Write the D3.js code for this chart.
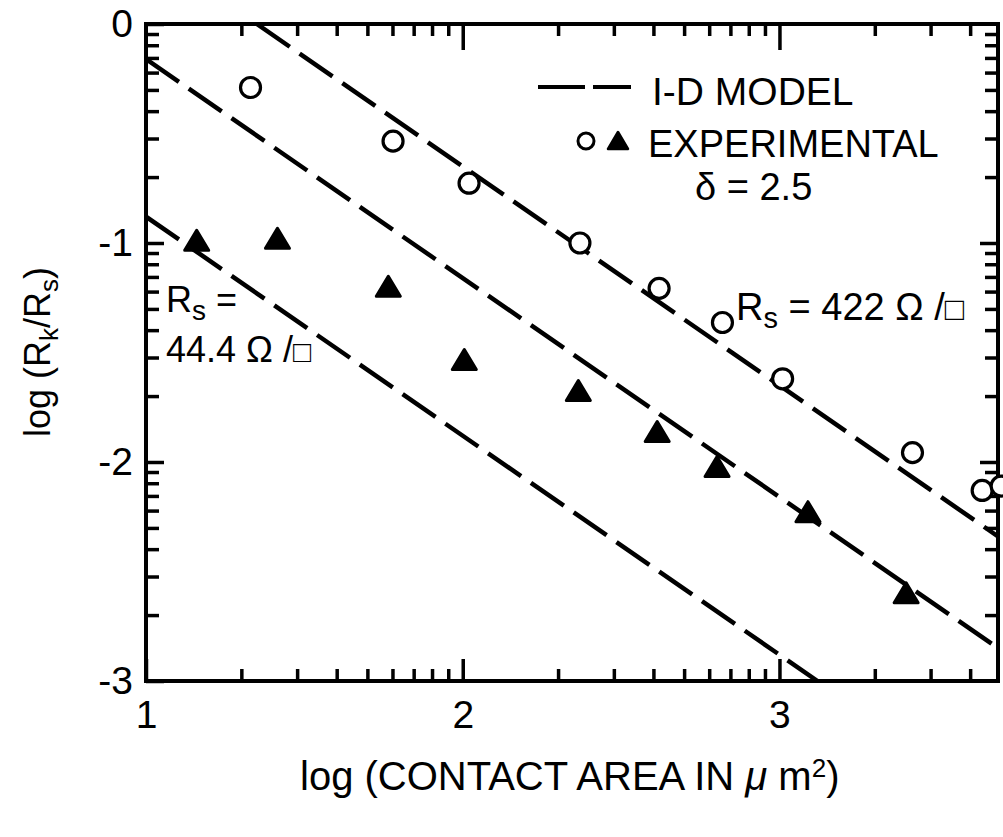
<!DOCTYPE html>
<html>
<head>
<meta charset="utf-8">
<script src="https://cdn.jsdelivr.net/npm/d3@7"></script>
<style>
  html, body { margin: 0; padding: 0; background: #fff; }
  svg { display: block; font-family: "Liberation Sans", Arial, Helvetica, sans-serif; }
  .axis path, .axis line { stroke: #000; stroke-width: 3.5; }
  .axis text { font-size: 39px; fill: #000; }
</style>
</head>
<body>
<svg id="chart" width="1003" height="837"></svg>
<script>
// log(Rk/Rs) vs log(area): tres rectas del modelo 1-D (punteadas) y los puntos
// experimentales, circulos para Rs = 422 y triangulos para Rs = 44.4

var circuloX = [1.33, 1.78, 2.02, 2.37, 2.62, 2.82, 3.01, 3.42, 3.64, 3.70];
var circuloY = [-0.29, -0.535, -0.727, -1.0, -1.207, -1.363, -1.62, -1.957, -2.13, -2.11];

var trianguloX = [1.16, 1.415, 1.765, 2.005, 2.365, 2.614, 2.803, 3.09, 3.40];
var trianguloY = [-0.997, -0.988, -1.207, -1.541, -1.683, -1.87, -2.03, -2.236, -2.606];

// extremos de cada recta del modelo
var modeloX = [[1.35, 3.69], [1.0, 3.69], [1.0, 3.12]];
var modeloY = [[0.0, -2.34], [-0.16, -2.85], [-0.88, -3.0]];

var ticksX = [1, 2, 3];
var ticksY = [0, -1, -2, -3];
var etiquetasX = ["1", "2", "3"];
var etiquetasY = ["0", "-1", "-2", "-3"];

var svg = d3.select("#chart");
var x = d3.scaleLinear().domain([1, 3.69]).range([146, 998]);
var y = d3.scaleLinear().domain([0, -3]).range([24, 681]);

// ticks menores de escala logaritmica dentro de cada decada
var menoresX = [];
[1, 2, 3].forEach(function (d) {
  for (var k = 2; k <= 9; k++) {
    var v = d + Math.log10(k);
    if (v < 3.69) menoresX.push(v);
  }
});
var menoresY = [];
[-1, -2, -3].forEach(function (d) {
  for (var k = 2; k <= 9; k++) menoresY.push(d + Math.log10(k));
});

var x0 = x.range()[0], x1 = x.range()[1];
var y0 = y.range()[0], y1 = y.range()[1];

function ejes(gen, tx, ty, valores, largo, fmt, pad) {
  var g = svg.append("g").attr("class", "axis")
    .attr("transform", "translate(" + tx + "," + ty + ")")
    .call(gen.tickValues(valores).tickSizeInner(-largo).tickSizeOuter(0)
      .tickPadding(pad || 0).tickFormat(fmt || function () { return ""; }));
  g.select(".domain").remove();
  return g;
}

// menores
ejes(d3.axisBottom(x), 0, y1, menoresX, 12);
ejes(d3.axisTop(x), 0, y0, menoresX, 12);
ejes(d3.axisLeft(y), x0, 0, menoresY, 13);
ejes(d3.axisRight(y), x1, 0, menoresY, 13);

// mayores con etiquetas
ejes(d3.axisBottom(x), 0, y1, ticksX, 22, function (d, i) { return etiquetasX[i]; }, 19)
  .selectAll("text").attr("dy", "0.71em");
ejes(d3.axisTop(x), 0, y0, ticksX.slice(1), 26);
ejes(d3.axisLeft(y), x0, 0, ticksY, 18, function (d, i) { return etiquetasY[i]; }, 13);
ejes(d3.axisRight(y), x1, 0, ticksY.slice(1, 3), 18);

// marco
svg.append("rect")
  .attr("x", x0).attr("y", y0)
  .attr("width", x1 - x0).attr("height", y1 - y0)
  .attr("fill", "none").attr("stroke", "#000").attr("stroke-width", 4);

svg.append("clipPath").attr("id", "recorte").append("rect")
  .attr("x", x0).attr("y", y0).attr("width", x1 - x0).attr("height", y1 - y0);

// rectas del modelo
var linea = d3.line().x(function (d) { return x(d[0]); }).y(function (d) { return y(d[1]); });
svg.append("g").attr("clip-path", "url(#recorte)").selectAll("path")
  .data(modeloX.map(function (xs, i) { return xs.map(function (v, j) { return [v, modeloY[i][j]]; }); }))
  .enter().append("path")
  .attr("d", linea)
  .attr("fill", "none").attr("stroke", "#000")
  .attr("stroke-width", 4.5).attr("stroke-dasharray", "40 12");

// puntos experimentales
svg.append("g").selectAll("circle")
  .data(circuloX.map(function (v, i) { return [v, circuloY[i]]; }))
  .enter().append("circle")
  .attr("cx", function (d) { return x(d[0]); })
  .attr("cy", function (d) { return y(d[1]); })
  .attr("r", 10)
  .attr("fill", "#fff").attr("stroke", "#000").attr("stroke-width", 3.2);

var tri = "M0,-12L12,8L-12,8Z";
svg.append("g").selectAll("path")
  .data(trianguloX.map(function (v, i) { return [v, trianguloY[i]]; }))
  .enter().append("path")
  .attr("transform", function (d) { return "translate(" + x(d[0]) + "," + y(d[1]) + ")"; })
  .attr("d", tri)
  .attr("fill", "#000").attr("stroke", "#000").attr("stroke-width", 3)
  .attr("stroke-linejoin", "round");

// leyenda
var ley = svg.append("g");
ley.append("line").attr("x1", 538).attr("x2", 585).attr("y1", 87).attr("y2", 87)
  .attr("stroke", "#000").attr("stroke-width", 4);
ley.append("line").attr("x1", 593).attr("x2", 631).attr("y1", 87).attr("y2", 87)
  .attr("stroke", "#000").attr("stroke-width", 4);
ley.append("text").attr("x", 652).attr("y", 105).attr("font-size", 39).text("I-D MODEL");
ley.append("circle").attr("cx", 586).attr("cy", 141).attr("r", 8)
  .attr("fill", "#fff").attr("stroke", "#000").attr("stroke-width", 3);
ley.append("path").attr("transform", "translate(618,142)").attr("d", "M0,-10L10,7L-10,7Z")
  .attr("fill", "#000").attr("stroke", "#000").attr("stroke-width", 2.5).attr("stroke-linejoin", "round");
ley.append("text").attr("x", 648).attr("y", 157).attr("font-size", 38).text("EXPERIMENTAL");
ley.append("text").attr("x", 695).attr("y", 200).attr("font-size", 38).text("δ = 2.5");

// anotaciones de Rs
var t1 = svg.append("text").attr("x", 736).attr("y", 320).attr("font-size", 38);
t1.append("tspan").text("R");
t1.append("tspan").attr("dy", 8).attr("font-size", 29).text("s");
t1.append("tspan").attr("dy", -8).text(" = 422 Ω /");
t1.append("tspan").attr("font-size", 32).text("□");

var t2 = svg.append("text").attr("x", 166).attr("y", 312).attr("font-size", 36);
t2.append("tspan").text("R");
t2.append("tspan").attr("dy", 8).attr("font-size", 28).text("s");
t2.append("tspan").attr("dy", -8).text(" =");
var t3 = svg.append("text").attr("x", 166).attr("y", 362).attr("font-size", 36);
t3.append("tspan").text("44.4 Ω /");
t3.append("tspan").attr("font-size", 30).text("□");

// titulos de ejes
var ty = svg.append("text")
  .attr("transform", "translate(50,352) rotate(-90)")
  .attr("text-anchor", "middle").attr("font-size", 36);
ty.append("tspan").text("log (R");
ty.append("tspan").attr("dy", 8).attr("font-size", 26).text("k");
ty.append("tspan").attr("dy", -8).text("/R");
ty.append("tspan").attr("dy", 8).attr("font-size", 26).text("s");
ty.append("tspan").attr("dy", -8).text(")");

var tx = svg.append("text").attr("x", 300).attr("y", 790).attr("font-size", 40);
tx.append("tspan").text("log (CONTACT AREA IN ");
tx.append("tspan").attr("font-style", "italic").text("μ");
tx.append("tspan").text(" m");
tx.append("tspan").attr("dy", -13).attr("font-size", 26).text("2");
tx.append("tspan").attr("dy", 13).text(")");
</script>
</body>
</html>
